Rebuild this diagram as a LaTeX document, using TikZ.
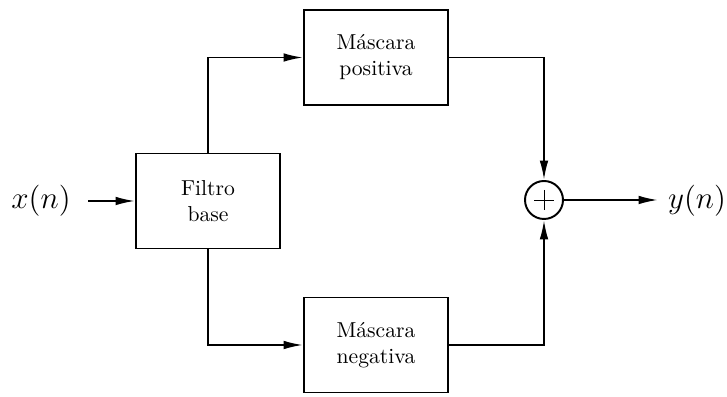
\documentclass[tikz,border=0pt]{standalone}
\usetikzlibrary{arrows.meta,calc}
\begin{document}
\begin{tikzpicture}[x=0.4625pt,y=-0.4625pt,
  blk/.style={draw,line width=0.9pt,minimum width=144*0.4625pt,minimum height=95*0.4625pt,align=center,inner sep=0pt},
  conn/.style={line width=0.9pt,-{Latex[length=9pt,width=4pt]}}]
\useasboundingbox (0,0) rectangle (727,397);
\node[blk] (f) at (208,201) {Filtro\\base};
\node[blk] (p) at (376,57.5) {Máscara\\positiva};
\node[blk] (n) at (376,345) {Máscara\\negativa};
\node[draw,circle,line width=0.9pt,minimum size=38*0.4625pt,inner sep=0pt] (s) at (544,200) {};
\draw[line width=0.45pt] ($(s.center)+(-10,0)$) -- ($(s.center)+(10,0)$);
\draw[line width=0.45pt] ($(s.center)+(0,-10)$) -- ($(s.center)+(0,10)$);
\node (x) at (41,201) {\Large $x(n)$};
\node (y) at (697,201) {\Large $y(n)$};
\coordinate (xa) at (88,201);
\coordinate (yb) at (658,200);
\draw[conn] (xa) -- (f.west);
\draw[conn] (f.north) -- (208,57.5) -- (p.west);
\draw[conn] (f.south) -- (208,345) -- (n.west);
\draw[conn] (p.east) -- (544,57.5) -- (s.north);
\draw[conn] (n.east) -- (544,345) -- (s.south);
\draw[conn] (s.east) -- (yb);
\end{tikzpicture}
\end{document}
